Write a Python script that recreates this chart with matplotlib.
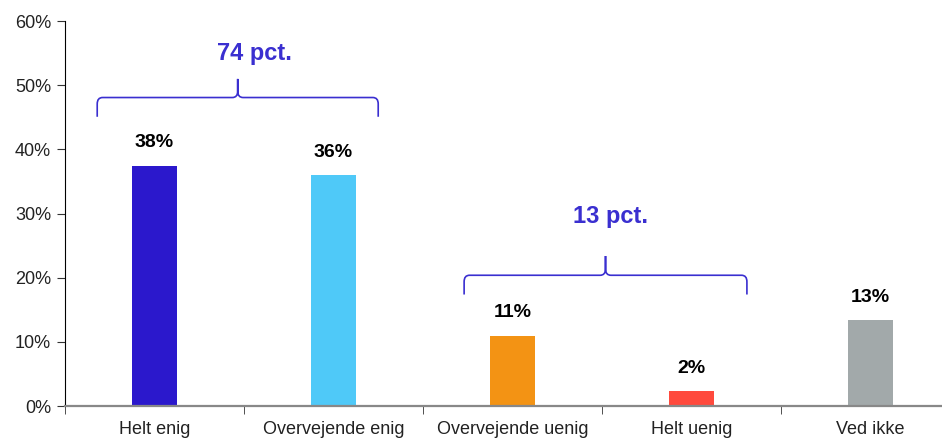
import numpy as np
import matplotlib
matplotlib.use('Agg')
import matplotlib.pyplot as plt
from matplotlib.path import Path
import matplotlib.patches as patches

categories = ['Helt enig', 'Overvejende enig', 'Overvejende uenig', 'Helt uenig', 'Ved ikke']
values = [37.5, 36.0, 11.0, 2.3, 13.4]
labels = ['38%', '36%', '11%', '2%', '13%']
barColors = ['#2B18CC', '#4FC9F8', '#F39314', '#FF4A3D', '#A2A9AA']
groupLabels = ['74 pct.', '13 pct.']

plt.rcParams['font.family'] = ['Liberation Sans', 'DejaVu Sans']

braceColor = '#3A2FD0'


def drawBrace(axis, x0, x1, y, depth, tip, r=0.03, ry=1.0):
	# curly brace opening downwards, tip pointing up
	xc = (x0 + x1) / 2
	verts = [
		(x0, y - depth), (x0, y - ry), (x0, y), (x0 + r, y),
		(xc - r, y), (xc, y), (xc, y + ry), (xc, tip),
	]
	codes = [Path.MOVETO, Path.LINETO, Path.CURVE3, Path.CURVE3,
		Path.LINETO, Path.CURVE3, Path.CURVE3, Path.LINETO]
	verts2 = [
		(xc, tip), (xc, y + ry), (xc, y), (xc + r, y),
		(x1 - r, y), (x1, y), (x1, y - ry), (x1, y - depth),
	]
	path = Path(verts + verts2, codes + codes)
	axis.add_patch(patches.PathPatch(path, fill=False, edgecolor=braceColor, lw=1.2, clip_on=False))


figure = plt.figure(figsize=(9.42, 4.41), dpi=100)
axis = figure.add_axes([0.069, 0.079, 0.931, 0.873])

x = np.arange(len(categories))
axis.bar(x, values, width=0.25, color=barColors, zorder=2)

for i in range(len(values)):
	axis.text(x[i], values[i] + 2.2, labels[i], ha='center', va='bottom', fontsize=14, fontweight='bold', color='black')

axis.set_xlim(-0.5, 4.4)
axis.set_ylim(0, 60)
axis.set_yticks(np.arange(0, 61, 10))
axis.set_yticklabels([str(v) + '%' for v in range(0, 61, 10)], fontsize=13, color='#222222')
axis.set_xticks(x)
axis.set_xticklabels(categories, fontsize=13, color='#222222')
axis.set_xticks(np.arange(-0.5, 4.5, 1), minor=True)
axis.tick_params(axis='x', which='major', length=0, pad=11)
axis.tick_params(axis='x', which='minor', length=6, color='#333333')
axis.tick_params(axis='y', length=6, color='#333333', pad=4)

axis.spines['top'].set_visible(False)
axis.spines['right'].set_visible(False)
axis.spines['left'].set_color('black')
axis.spines['bottom'].set_color('#888888')
axis.spines['bottom'].set_linewidth(1.6)

drawBrace(axis, -0.32, 1.25, 48.1, 3.0, 51.0)
axis.text(0.56, 55.0, groupLabels[0], ha='center', va='center', fontsize=17, fontweight='bold', color=braceColor)

drawBrace(axis, 1.73, 3.31, 20.4, 3.0, 23.4)
axis.text(2.55, 29.6, groupLabels[1], ha='center', va='center', fontsize=17, fontweight='bold', color=braceColor)

figure.savefig('out.png', dpi=100)
